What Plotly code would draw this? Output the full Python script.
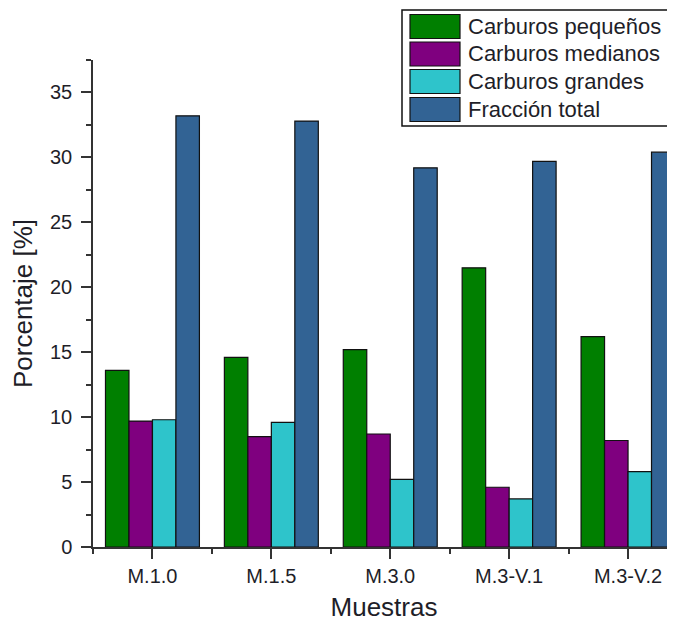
import plotly.graph_objects as go

categories = ["M.1.0", "M.1.5", "M.3.0", "M.3-V.1", "M.3-V.2"]
series_names = ["Carburos pequeños", "Carburos medianos", "Carburos grandes", "Fracción total"]
pequenos = [13.6, 14.6, 15.2, 21.5, 16.2]
medianos = [9.7, 8.5, 8.7, 4.6, 8.2]
grandes = [9.8, 9.6, 5.2, 3.7, 5.8]
total = [33.2, 32.8, 29.2, 29.7, 30.4]
series_values = [pequenos, medianos, grandes, total]
colors = ["#007F00", "#7F007F", "#2EC4CB", "#326394"]

# The page body has an 8px margin, so the figure is shifted by OFF on screen
OFF = 8
W, H = 675 - OFF, 623 - OFF
ML, MR, MT, MB = 93 - OFF, 0, 60 - OFF, 76
PW, PH = W - ML - MR, H - MT - MB


def px(x):
    # screen pixel x -> paper x
    return (x - OFF - ML) / PW


def py(y):
    # screen pixel y -> paper y
    return (H - MB - (y - OFF)) / PH


xpos = list(range(len(categories)))
fig = go.Figure()
for name, vals, col in zip(series_names, series_values, colors):
    fig.add_trace(go.Bar(
        x=xpos, y=vals, name=name,
        marker=dict(color=col, line=dict(color="#111111", width=1.2)),
        showlegend=False,
    ))

font_col = "#1e1e28"
fig.update_layout(
    width=W, height=H,
    margin=dict(l=ML, r=MR, t=MT, b=MB),
    paper_bgcolor="white", plot_bgcolor="white",
    barmode="group", bargap=0.21, bargroupgap=0,
    font=dict(family="Liberation Sans, Arial, sans-serif", color=font_col),
    xaxis=dict(
        range=[-0.5, 4.395],
        tickmode="array", tickvals=xpos, ticktext=categories,
        ticks="outside", ticklen=10, tickwidth=1.5, tickcolor="#333333",
        showline=True, linecolor="#333333", linewidth=1.5,
        showgrid=False, zeroline=False,
        tickfont=dict(size=20, color=font_col),
        minor=dict(tickmode="linear", tick0=-0.5, dtick=1, ticks="outside",
                   ticklen=5, tickwidth=1.5, tickcolor="#333333", showgrid=False),
        title=dict(text="Muestras", font=dict(size=26, color=font_col), standoff=12),
    ),
    yaxis=dict(
        range=[0, 37.5],
        tickmode="linear", tick0=0, dtick=5,
        ticks="outside", ticklen=10, tickwidth=1.5, tickcolor="#333333",
        showline=True, linecolor="#333333", linewidth=1.5,
        showgrid=False, zeroline=False,
        ticklabelstandoff=5,
        tickfont=dict(size=20, color=font_col),
        minor=dict(tickmode="linear", tick0=0, dtick=2.5, ticks="outside",
                   ticklen=5, tickwidth=1.5, tickcolor="#333333", showgrid=False),
        title=dict(text="Porcentaje [%]", font=dict(size=26, color=font_col), standoff=10),
    ),
)

# Legend drawn as a box with swatches and text
shapes = [dict(type="rect", xref="paper", yref="paper",
               x0=px(402), x1=px(673), y0=py(126), y1=py(10),
               line=dict(color="#111111", width=1.5), fillcolor="white", layer="above")]
annotations = []
row_centers = [26.5, 54, 81.5, 109.5]
for name, col, yc in zip(series_names, colors, row_centers):
    shapes.append(dict(type="rect", xref="paper", yref="paper",
                       x0=px(410), x1=px(460), y0=py(yc + 12), y1=py(yc - 12),
                       line=dict(color="#111111", width=1.2), fillcolor=col, layer="above"))
    annotations.append(dict(xref="paper", yref="paper", x=px(466), y=py(yc),
                            xanchor="left", yanchor="middle", showarrow=False,
                            text=name, font=dict(size=22, color=font_col)))
fig.update_layout(shapes=shapes, annotations=annotations)

fig.write_html("out.html")
